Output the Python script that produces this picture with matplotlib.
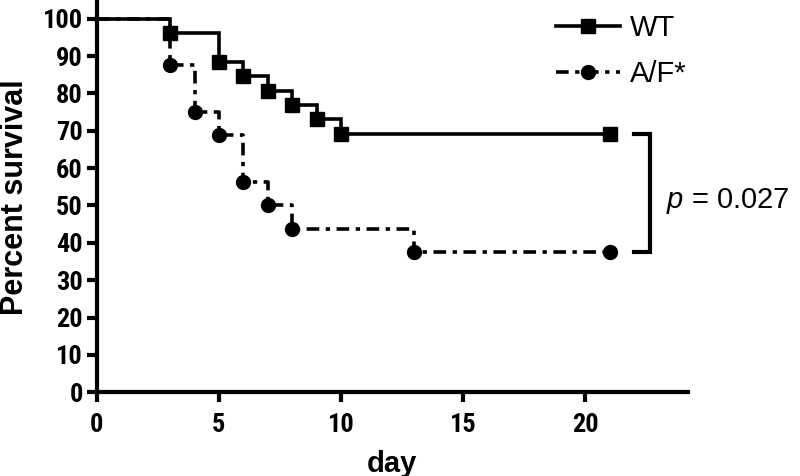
import matplotlib
matplotlib.use('Agg')
import matplotlib.pyplot as plt
from matplotlib import font_manager
from matplotlib.lines import Line2D

# pick a narrow Arial-like face for the tick labels if one is installed
installed = {f.name for f in font_manager.fontManager.ttflist}
narrow = next((n for n in ['Liberation Sans Narrow', 'Arial Narrow', 'Roboto Condensed',
                           'Archivo Narrow', 'Barlow Semi Condensed'] if n in installed),
              'Liberation Sans')

plt.rcParams['font.family'] = ['Liberation Sans', 'DejaVu Sans']
plt.rcParams['mathtext.fontset'] = 'custom'
plt.rcParams['mathtext.it'] = 'Liberation Sans:italic'
plt.rcParams['mathtext.rm'] = 'Liberation Sans'

# Kaplan-Meier data
wt_days = [0, 3, 5, 6, 7, 8, 9, 10, 21]
wt_surv = [100, 96.15, 88.46, 84.62, 80.77, 76.92, 73.08, 69.23, 69.23]

af_days = [0, 3, 4, 5, 6, 7, 8, 13, 21]
af_surv = [100, 87.5, 75.0, 68.75, 56.25, 50.0, 43.75, 37.5, 37.5]

x_ticks = [0, 5, 10, 15, 20]
y_ticks = list(range(0, 101, 10))
p_label = '$p$ = 0.027'

fig = plt.figure(figsize=(8, 4.76), dpi=100)
ax = fig.add_axes([0.121, 0.176, 0.739, 0.82])

lw = 2.6
dash = (0, (3.5, 1.8, 1.2, 1.8))

ax.step(wt_days, wt_surv, where='post', color='black', lw=lw, solid_joinstyle='miter')
ax.plot(wt_days[1:], wt_surv[1:], 's', color='black', ms=10, linestyle='none')

ax.step(af_days, af_surv, where='post', color='black', lw=lw, linestyle=dash)
ax.plot(af_days[1:], af_surv[1:], 'o', color='black', ms=10, linestyle='none')

# significance bracket
bx0, bx1 = 22.0, 22.65
ax.plot([bx0, bx1, bx1, bx0], [wt_surv[-1], wt_surv[-1], af_surv[-1], af_surv[-1]],
        color='black', lw=3, clip_on=False, solid_joinstyle='miter')
ax.text(23.3, 51.2, p_label, fontsize=21, va='center', ha='left', clip_on=False)

ax.set_xlim(0, 24.2)
ax.set_ylim(0, 104.5)
ax.set_xticks(x_ticks)
ax.set_yticks(y_ticks)

for side in ['top', 'right']:
    ax.spines[side].set_visible(False)
for side in ['left', 'bottom']:
    ax.spines[side].set_linewidth(3)

ax.tick_params(direction='out', length=7, width=3, labelsize=19)
ax.tick_params(axis='x', pad=8)
ax.tick_params(axis='y', pad=3)
for lab in ax.get_xticklabels() + ax.get_yticklabels():
    lab.set_fontweight('bold')
    lab.set_family(narrow)

ax.set_xlabel('day', fontsize=21, fontweight='bold', labelpad=9)
ax.set_ylabel('Percent survival', fontsize=22, fontweight='bold', labelpad=9)

handles = [
    Line2D([], [], color='black', lw=lw, marker='s', ms=10),
    Line2D([], [], color='black', lw=lw, linestyle=dash, marker='o', ms=10),
]
ax.legend(handles, ['WT', 'A/F*'], loc='upper left', bbox_to_anchor=(0.732, 1.035),
          frameon=False, handlelength=2.2, handletextpad=0.35,
          labelspacing=0.6, prop={'size': 21})

fig.savefig('out.png', dpi=100)
